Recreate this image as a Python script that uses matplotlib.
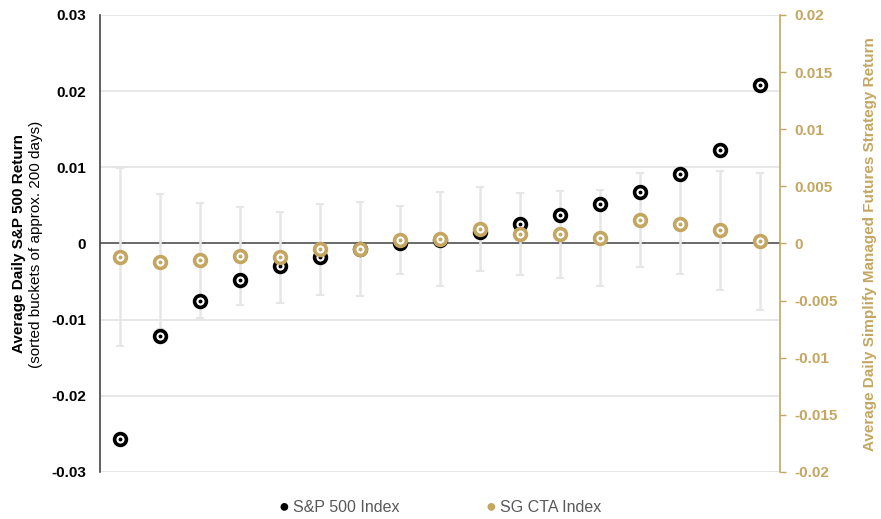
import matplotlib.pyplot as plt
import numpy as np

plt.rcParams['font.family'] = ['Liberation Sans', 'DejaVu Sans']

# 17 buckets of trading days, sorted by average S&P 500 return
buckets = list(range(1, 18))
spx_return = [-0.0257, -0.0121, -0.0075, -0.0048, -0.0030, -0.0018, -0.0007, 0.0000,
              0.0005, 0.0015, 0.0026, 0.0037, 0.0052, 0.0068, 0.0091, 0.0123, 0.0208]
cta_return = [-0.00116, -0.00160, -0.00148, -0.00107, -0.00121, -0.00051, -0.00046, 0.00031,
              0.00040, 0.00127, 0.00081, 0.00080, 0.00051, 0.00203, 0.00171, 0.00116, 0.00019]
cta_err = [0.0078, 0.0059, 0.0050, 0.0043, 0.0040, 0.0040, 0.0041, 0.0030,
           0.0041, 0.0037, 0.0036, 0.0038, 0.0042, 0.0041, 0.0044, 0.0052, 0.0060]

left_ticks = [-0.03, -0.02, -0.01, 0, 0.01, 0.02, 0.03]
left_labels = ['-0.03', '-0.02', '-0.01', '0', '0.01', '0.02', '0.03']
right_ticks = [-0.02, -0.015, -0.01, -0.005, 0, 0.005, 0.01, 0.015, 0.02]
right_labels = ['-0.02', '-0.015', '-0.01', '-0.005', '0', '0.005', '0.01', '0.015', '0.02']

gold = '#c4a661'
grid_grey = '#e3e3e3'

fig = plt.figure(figsize=(8.81, 5.19), dpi=100)
ax = fig.add_axes([0.1135, 0.0906, 0.772, 0.8805])
ax2 = ax.twinx()

x = np.arange(len(buckets))

# left axis: S&P 500
ax.set_ylim(-0.03, 0.03)
ax.set_xlim(-0.5, len(buckets) - 0.5)
ax.set_yticks(left_ticks)
ax.set_yticklabels(left_labels, fontsize=11, fontweight='bold')
ax.set_xticks([])
ax.grid(axis='y', color=grid_grey, linewidth=1.2)
ax.set_axisbelow(True)
ax.axhline(0, color='#555555', linewidth=1.2, zorder=1)
ax.tick_params(axis='y', length=0, pad=10)
for side in ['top', 'bottom', 'right']:
    ax.spines[side].set_visible(False)
ax.spines['left'].set_color('#444444')
ax.spines['left'].set_linewidth(1.2)

# right axis: SG CTA with spread bars
ax2.set_ylim(-0.02, 0.02)
ax2.set_yticks(right_ticks)
ax2.set_yticklabels(right_labels, fontsize=11, fontweight='bold', color=gold)
ax2.tick_params(axis='y', colors=gold, length=4, width=1, pad=6)
for side in ['top', 'bottom', 'left']:
    ax2.spines[side].set_visible(False)
ax2.spines['right'].set_color(gold)
ax2.spines['right'].set_linewidth(1.2)

ax2.errorbar(x, cta_return, yerr=cta_err, fmt='none', ecolor='#e6e6e6',
             elinewidth=1.8, capsize=3, capthick=1.5, zorder=1)

# S&P markers drawn on the left scale, under the gold ones
spx_y = np.array(spx_return) / 0.03 * 0.02
ax2.plot(x, spx_y, 'o', ms=8.5, mfc='white', mec='black', mew=2.6, zorder=2)
ax2.plot(x, spx_y, 'o', ms=1.8, color='black', zorder=2)

ax2.plot(x, cta_return, 'o', ms=8.5, mfc='white', mec=gold, mew=2.6, zorder=3)
ax2.plot(x, cta_return, 'o', ms=1.8, color=gold, zorder=4)

fig.text(0.021, 0.53, 'Average Daily S&P 500 Return', rotation=90, ha='center',
         va='center', fontsize=11, fontweight='bold')
fig.text(0.041, 0.53, '(sorted buckets of approx. 200 days)', rotation=90,
         ha='center', va='center', fontsize=11)
fig.text(0.988, 0.53, 'Average Daily Simplify Managed Futures Strategy Return',
         rotation=90, ha='center', va='center', fontsize=11, fontweight='bold',
         color=gold)

# legend
fig.text(0.316, 0.023, '\u25CF', color='black', fontsize=13, ha='left', va='center')
fig.text(0.333, 0.023, 'S&P 500 Index', color='#595959', fontsize=11.5, ha='left', va='center')
fig.text(0.551, 0.023, '\u25CF', color=gold, fontsize=13, ha='left', va='center')
fig.text(0.568, 0.023, 'SG CTA Index', color='#595959', fontsize=11.5, ha='left', va='center')

fig.savefig('out.png', dpi=100)
